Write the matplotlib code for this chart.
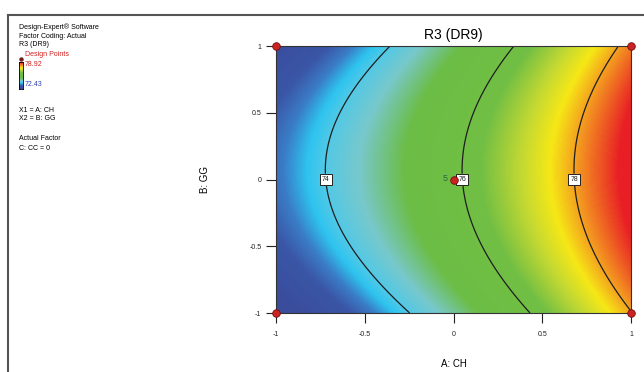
import numpy as np
import matplotlib
matplotlib.use("Agg")
from matplotlib import pyplot as plt, colors
from matplotlib.lines import Line2D

plt.rcParams['font.family'] = ['Liberation Sans Narrow', 'Liberation Sans', 'DejaVu Sans']

# fitted response surface for R3 (DR9), coded factors A: CH, B: GG
# terms: intercept, A, B, A^2, B^2
coef_names = ['I', 'A', 'B', 'A2', 'B2']
coef_vals = [75.855, 2.873, 0.145, 0.412, -1.025]
r_min, r_max = 72.43, 78.92
contour_levels = [74, 76, 78]
label_pos = [(-0.72, 0.0), (0.05, 0.0), (0.68, 0.0)]

# design points (corners and the centre, which has 5 replicates)
pts_a = [-1, -1, 1, 1, 0]
pts_b = [-1, 1, -1, 1, 0]
centre_reps = 5

ticks = [-1, -0.5, 0, 0.5, 1]
tick_labels = ['-1', '-0.5', '0', '0.5', '1']

c = dict(zip(coef_names, coef_vals))
a, b = np.meshgrid(np.linspace(-1, 1, 300), np.linspace(-1, 1, 300))
z = c['I'] + c['A']*a + c['B']*b + c['A2']*a**2 + c['B2']*b**2

cmap = colors.LinearSegmentedColormap.from_list('dx', [
    (0.0, '#3a4c9c'), (0.11, '#3b56a6'), (0.16, '#3a7cc6'), (0.205, '#2ec4ef'),
    (0.24, '#52c9e6'), (0.31, '#78c8cb'), (0.41, '#6cbd46'), (0.60, '#72bf44'),
    (0.71, '#c4d932'), (0.79, '#f6e816'), (0.88, '#f39021'), (1.0, '#e81f25')])

fig = plt.figure(figsize=(6.44, 3.72), dpi=100)
ax = fig.add_axes([0.4286, 0.1586, 0.5512, 0.7177])
ax.imshow(z, extent=(-1, 1, -1, 1), origin='lower', cmap=cmap,
          vmin=r_min, vmax=r_max, aspect='auto', interpolation='bilinear')
cs = ax.contour(a, b, z, levels=contour_levels, colors='#1e1e1e', linewidths=0.9)
lbls = ax.clabel(cs, fmt='%d', fontsize=5, inline=True, inline_spacing=2,
                 manual=label_pos)
for t in lbls:
    t.set_rotation(0)
    t.set_bbox(dict(boxstyle='square,pad=0.3', fc='white', ec='#222222', lw=0.7))

ax.scatter(pts_a, pts_b, s=30, c='#cc2222', edgecolors='#701010', linewidths=0.6,
           zorder=5, clip_on=False)
ax.text(-0.035, 0.005, str(centre_reps), color='#2a6a40', fontsize=6.5,
        ha='right', va='center')

ax.set_xlim(-1, 1)
ax.set_ylim(-1, 1)
ax.set_xticks(ticks)
ax.set_xticklabels(tick_labels)
ax.set_yticks(ticks)
ax.set_yticklabels(tick_labels)
ax.tick_params(labelsize=5, length=7, width=0.8, direction='out', colors='#222222')
ax.tick_params(axis='x', pad=6)
for s in ax.spines.values():
    s.set_linewidth(0.8)
    s.set_color('#333333')

ax.set_title('R3 (DR9)', fontsize=10, pad=5)
ax.set_xlabel('A: CH', fontsize=7, labelpad=15)
ax.set_ylabel('B: GG', fontsize=7, labelpad=28)

# outer frame of the screenshot
fig.add_artist(Line2D([8/644, 1], [1 - 15/372, 1 - 15/372], color='#555555', lw=1.5))
fig.add_artist(Line2D([8/644, 8/644], [0, 1 - 15/372], color='#555555', lw=1.5))

# info block on the left
def px(x, y):
    return x/644, 1 - y/372

fs = 5
fig.text(*px(19, 27), 'Design-Expert® Software', fontsize=fs, va='center')
fig.text(*px(19, 36), 'Factor Coding: Actual', fontsize=fs, va='center')
fig.text(*px(19, 45), 'R3 (DR9)', fontsize=fs, va='center')
fig.text(*px(25, 55), 'Design Points', fontsize=fs, va='center', color='#d02020')
fig.add_artist(Line2D([21/644], [1 - 59/372], marker='o', ms=2.2, color='#702020'))
fig.text(*px(25, 64), '78.92', fontsize=fs, va='center', color='#d02020')
fig.text(*px(25, 85), '72.43', fontsize=fs, va='center', color='#3040b0')
cax = fig.add_axes([19/644, 1 - 89/372, 4/644, 27/372])
cax.imshow(np.linspace(1, 0, 50)[:, None], cmap=cmap, aspect='auto')
cax.set_xticks([])
cax.set_yticks([])
for s in cax.spines.values():
    s.set_linewidth(0.6)
fig.text(*px(19, 110), 'X1 = A: CH', fontsize=fs, va='center')
fig.text(*px(19, 119), 'X2 = B: GG', fontsize=fs, va='center')
fig.text(*px(19, 139), 'Actual Factor', fontsize=fs, va='center')
fig.text(*px(19, 148), 'C: CC = 0', fontsize=fs, va='center')

fig.savefig('out.png', dpi=100)
